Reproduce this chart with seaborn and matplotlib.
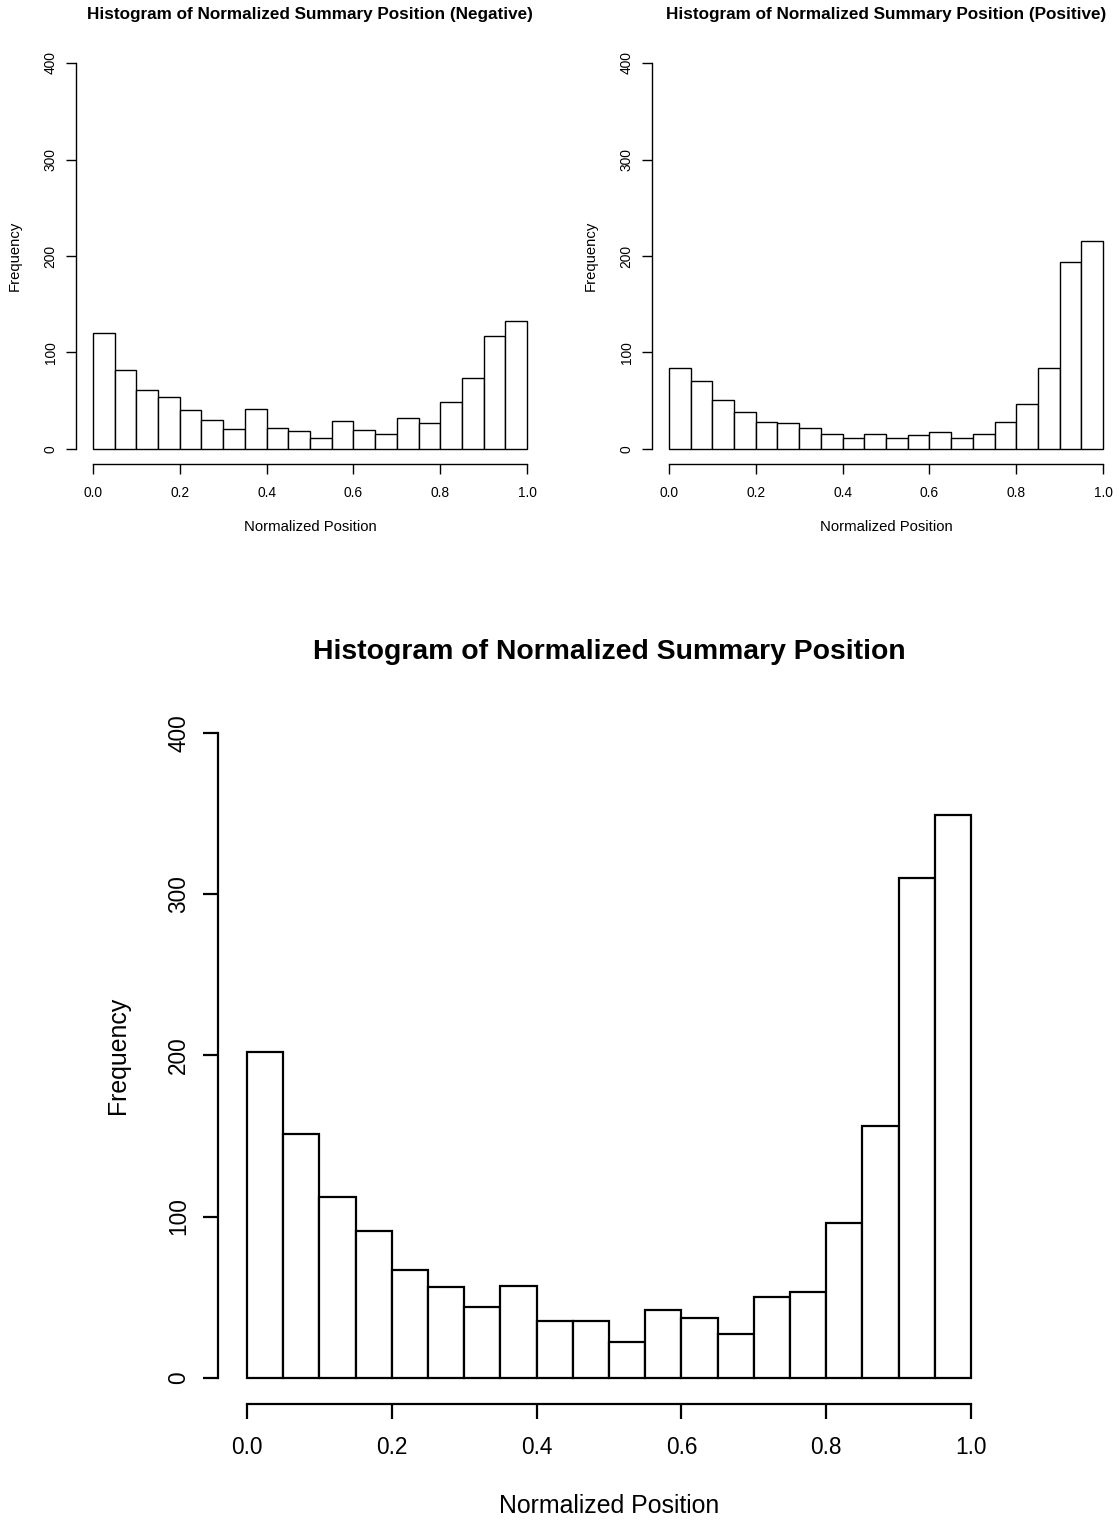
import numpy as np
import pandas as pd
import matplotlib
matplotlib.use("Agg")
import matplotlib.pyplot as plt
import seaborn as sns

# ---- data (counts per bin, 20 bins of width 0.05 on [0, 1]) ----
bin_edges = [round(i * 0.05, 2) for i in range(21)]
negative_counts = [120, 82, 61, 54, 40, 30, 21, 41, 22, 19,
                   11, 29, 20, 16, 32, 27, 49, 74, 117, 133]
positive_counts = [84, 70, 51, 38, 28, 27, 22, 16, 11, 16,
                   11, 14, 18, 11, 16, 28, 47, 84, 194, 216]
all_counts = [202, 151, 112, 91, 67, 56, 44, 57, 35, 35,
              22, 42, 37, 27, 50, 53, 96, 156, 310, 349]
x_ticks = [0.0, 0.2, 0.4, 0.6, 0.8, 1.0]
y_ticks = [0, 100, 200, 300, 400]
titles = ["Histogram of Normalized Summary Position (Negative)",
          "Histogram of Normalized Summary Position (Positive)",
          "Histogram of Normalized Summary Position"]
x_label = "Normalized Position"
y_label = "Frequency"

sns.set_theme(style="ticks")
plt.rcParams["font.family"] = ["Liberation Sans", "DejaVu Sans"]
plt.rcParams["text.color"] = "black"
plt.rcParams["axes.labelcolor"] = "black"
plt.rcParams["xtick.color"] = "black"
plt.rcParams["ytick.color"] = "black"

W, H = 1119, 1521
fig = plt.figure(figsize=(W / 100, H / 100), dpi=100)
fig.patch.set_facecolor("white")

def frac(x0, y0, x1, y1):
    return [x0 / W, 1 - y1 / H, (x1 - x0) / W, (y1 - y0) / H]

ax_neg = fig.add_axes(frac(75.6, 47.6, 544.4, 464.4))
ax_pos = fig.add_axes(frac(651.6, 47.6, 1120.4, 464.4))
ax_all = fig.add_axes(frac(218, 707.2, 1000, 1403.5))

centers = [(bin_edges[i] + bin_edges[i + 1]) / 2 for i in range(20)]

small = dict(title=12.3, tick=9.9, label=10.7, lw=1.0, tlen=7.0, ypad=5.9, xpad=8.3,
             ylab_x=-0.129, xlab_y=-0.1495, title_y=1.0806)
big = dict(title=20.4, tick=16.3, label=17.9, lw=1.6, tlen=11.0, ypad=8.9, xpad=12.3,
           ylab_x=-0.1279, xlab_y=-0.1472, title_y=1.0793)

specs = [
    (ax_neg, negative_counts, titles[0], small),
    (ax_pos, positive_counts, titles[1], small),
    (ax_all, all_counts, titles[2], big),
]

for ax, counts, title, s in specs:
    df = pd.DataFrame({"pos": centers, "count": counts})
    sns.histplot(data=df, x="pos", weights="count", bins=bin_edges, ax=ax,
                 stat="count", color="white", edgecolor="black",
                 linewidth=s["lw"], alpha=1.0)
    ax.set_facecolor("white")
    ax.set_xlim(-0.04, 1.04)
    ax.set_ylim(-16, 416)
    ax.set_xticks(x_ticks)
    ax.set_xticklabels([f"{t:.1f}" for t in x_ticks])
    ax.set_yticks(y_ticks)
    ax.set_yticklabels([str(t) for t in y_ticks])
    for side in ["top", "right"]:
        ax.spines[side].set_visible(False)
    ax.spines["left"].set_bounds(0, 400)
    ax.spines["bottom"].set_bounds(0, 1)
    for side in ["left", "bottom"]:
        ax.spines[side].set_linewidth(s["lw"])
        ax.spines[side].set_color("black")
    ax.tick_params(axis="both", length=s["tlen"], width=s["lw"],
                   labelsize=s["tick"], direction="out")
    ax.tick_params(axis="y", pad=s["ypad"], labelrotation=90)
    ax.tick_params(axis="x", pad=s["xpad"])
    for lbl in ax.get_yticklabels():
        lbl.set_va("center")
    ax.set_xlabel(x_label, fontsize=s["label"], va="center")
    ax.set_ylabel(y_label, fontsize=s["label"], va="center")
    ax.xaxis.set_label_coords(0.5, s["xlab_y"])
    ax.yaxis.set_label_coords(s["ylab_x"], 0.5)
    ax.set_title(title, fontsize=s["title"], fontweight="bold",
                 y=s["title_y"], va="center", pad=0)

fig.savefig("out.png", dpi=100, facecolor="white")
